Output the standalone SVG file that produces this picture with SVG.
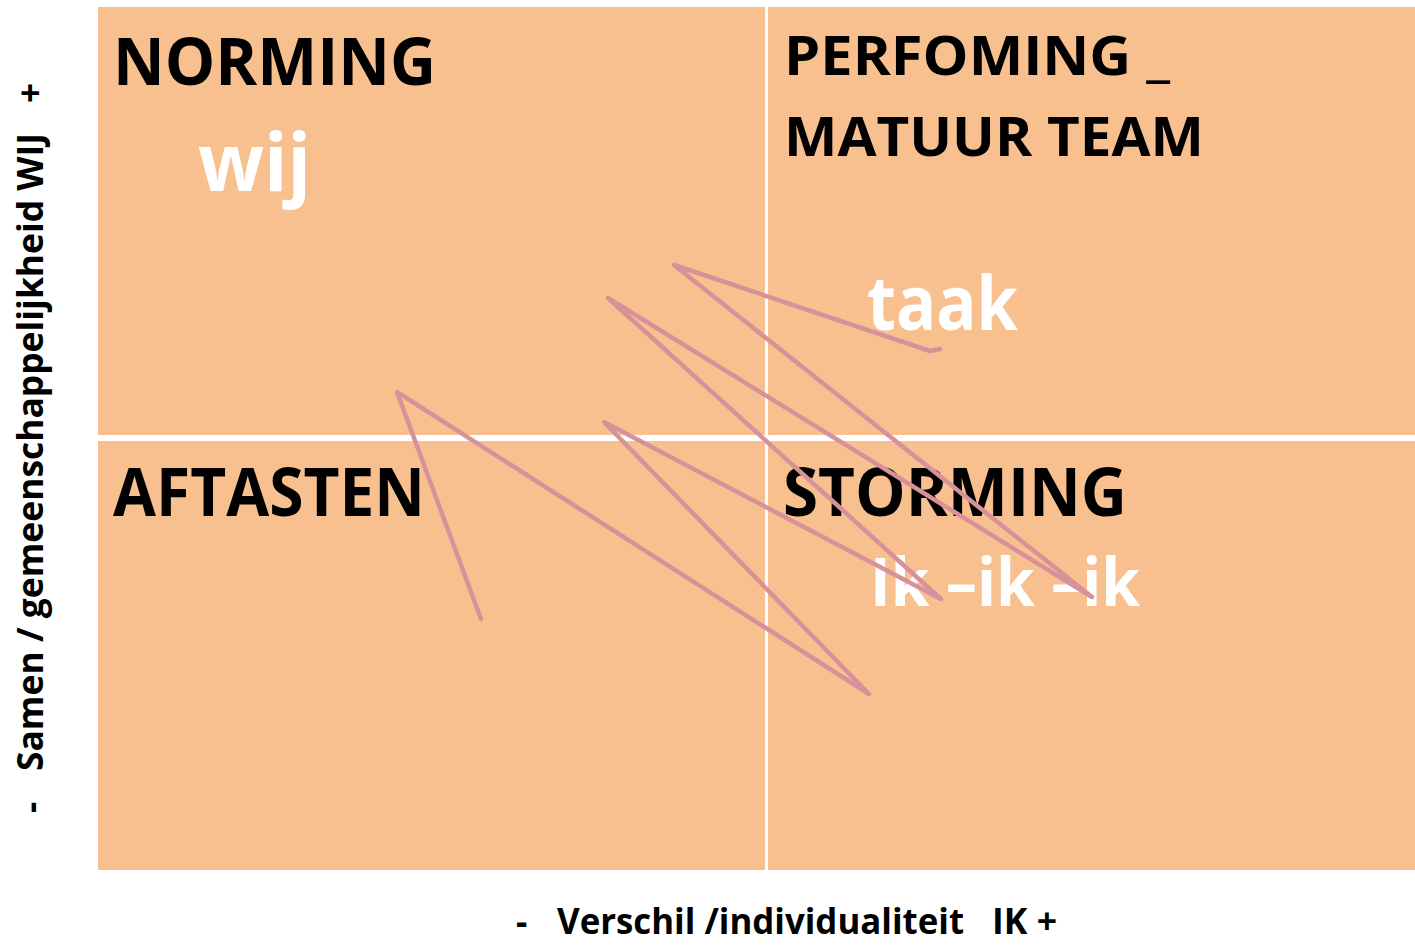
<svg xmlns="http://www.w3.org/2000/svg" width="1415" height="945" viewBox="0 0 1415 945">
  <style>
    .title { font-family: "Open Sans", "Liberation Sans", sans-serif; font-weight: 700; fill: #000000; }
    .word { font-family: "Open Sans", "Liberation Sans", sans-serif; font-weight: 700; fill: #ffffff; }
    .axis { font-family: "Open Sans", "Liberation Sans", sans-serif; font-weight: 700; font-size: 35px; fill: #000000; }
    .divider { fill: #ffffff; }
    .scribble { fill: none; stroke: #D6919A; stroke-width: 4.5; stroke-linecap: round; stroke-linejoin: round; }
  </style>

  <rect width="1415" height="945" fill="#ffffff"/>

  <!-- quadrant field -->
  <rect x="98" y="7" width="1317" height="863" fill="#F9C08F"/>
  <rect class="divider" x="765" y="7" width="3" height="863"/>
  <rect class="divider" x="98" y="435" width="1317" height="6"/>

  <!-- top-left quadrant -->
  <g id="norming">
    <text class="title" x="113" y="85" font-size="67" textLength="323" lengthAdjust="spacingAndGlyphs">NORMING</text>
    <text class="word" x="198" y="191" font-size="80" textLength="113" lengthAdjust="spacingAndGlyphs">wij</text>
  </g>

  <!-- top-right quadrant -->
  <g id="performing">
    <text class="title" x="784" y="75" font-size="54" textLength="386" lengthAdjust="spacingAndGlyphs">PERFOMING _</text>
    <text class="title" x="784" y="156" font-size="54" textLength="420" lengthAdjust="spacingAndGlyphs">MATUUR TEAM</text>
    <text class="word" x="867" y="330" font-size="75" textLength="151" lengthAdjust="spacingAndGlyphs">taak</text>
  </g>

  <!-- bottom-left quadrant -->
  <g id="aftasten">
    <text class="title" x="113" y="516" font-size="66" textLength="312" lengthAdjust="spacingAndGlyphs">AFTASTEN</text>
  </g>

  <!-- bottom-right quadrant -->
  <g id="storming">
    <text class="title" x="783" y="516" font-size="66" textLength="344" lengthAdjust="spacingAndGlyphs">STORMING</text>
    <text class="word" x="870" y="606" font-size="66" textLength="270" lengthAdjust="spacingAndGlyphs">Ik –ik –ik</text>
  </g>

  <!-- freehand zigzag stroke across the quadrants -->
  <g id="connectors">
    <polyline class="scribble" points="481,619 397,392 869,694 604,422 941,599 608,298 1092,597 674,265 930,351 940,349"/>
  </g>

  <!-- axis labels -->
  <g id="axis-x">
    <text class="axis" y="934">
      <tspan x="516">-</tspan>
      <tspan x="557" textLength="407" lengthAdjust="spacingAndGlyphs">Verschil /individualiteit</tspan>
      <tspan x="992" textLength="65" lengthAdjust="spacingAndGlyphs">IK +</tspan>
    </text>
  </g>
  <g id="axis-y">
    <text class="axis" transform="translate(43,0) rotate(-90)" y="0">
      <tspan x="-813">-</tspan>
      <tspan x="-771" textLength="638" lengthAdjust="spacingAndGlyphs">Samen / gemeenschappelijkheid WIJ</tspan>
      <tspan x="-103">+</tspan>
    </text>
  </g>
</svg>
